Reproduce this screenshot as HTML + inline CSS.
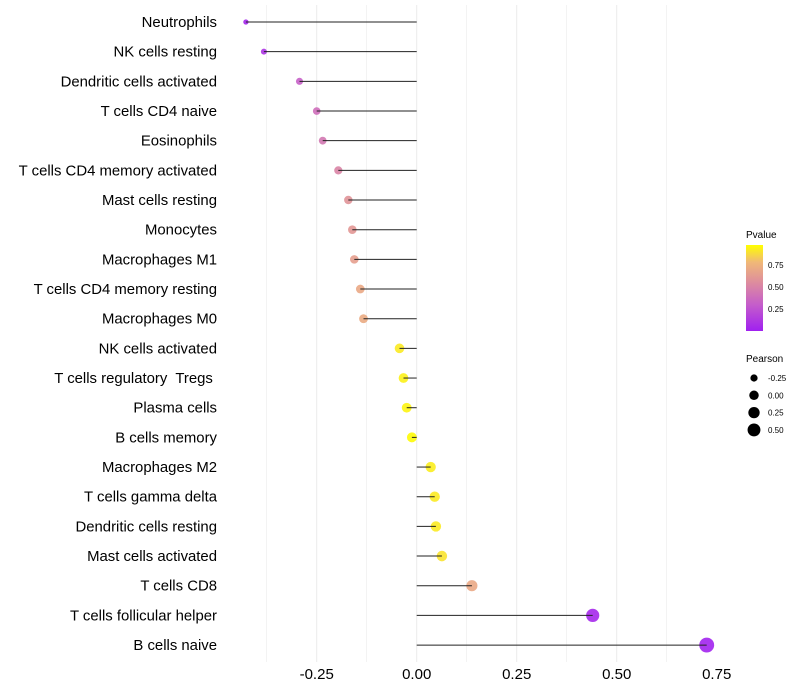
<!DOCTYPE html>
<html><head><meta charset="utf-8"><style>
body{margin:0;background:#fff;font-family:"Liberation Sans",sans-serif;}
svg{display:block}
text{white-space:pre}
</style></head><body>
<svg id="chart" width="800" height="700">
<defs><linearGradient id="pg" x1="0" y1="1" x2="0" y2="0">
<stop offset="0" stop-color="#a020f0"/><stop offset="0.3" stop-color="#c45ccb"/><stop offset="0.55" stop-color="#dc8aa0"/><stop offset="0.8" stop-color="#f0b878"/><stop offset="1" stop-color="#ffff00"/></linearGradient></defs>
<g id="grid"></g><g id="marks"></g><g id="labels"></g>
<g>
<text x="746" y="238" font-size="10" fill="#000">Pvalue</text>
<rect x="746" y="245" width="17" height="86" fill="url(#pg)"/>
<g font-size="8" fill="#000">
<text x="768" y="268">0.75</text><text x="768" y="290">0.50</text><text x="768" y="312">0.25</text></g>
</g>
<g>
<text x="746" y="362" font-size="10">Pearson</text>
<g id="sizeleg"></g>
</g>
</svg>
<script>
const categories=["Neutrophils","NK cells resting","Dendritic cells activated","T cells CD4 naive","Eosinophils","T cells CD4 memory activated","Mast cells resting","Monocytes","Macrophages M1","T cells CD4 memory resting","Macrophages M0","NK cells activated","T cells regulatory  Tregs ","Plasma cells","B cells memory","Macrophages M2","T cells gamma delta","Dendritic cells resting","Mast cells activated","T cells CD8","T cells follicular helper","B cells naive"];
const pearson=[-0.427,-0.382,-0.293,-0.25,-0.235,-0.196,-0.171,-0.161,-0.156,-0.141,-0.133,-0.043,-0.033,-0.025,-0.012,0.035,0.045,0.048,0.063,0.138,0.44,0.725];
const pvalues=[0.03,0.1,0.32,0.4,0.45,0.52,0.6,0.62,0.66,0.72,0.73,0.94,0.96,0.97,0.99,0.95,0.94,0.94,0.92,0.72,0.04,0.02];
const xTicks=[-0.25,0,0.25,0.5,0.75];
const xTickLabels=["-0.25","0.00","0.25","0.50","0.75"];
const sizeLegendVals=[-0.25,0,0.25,0.5];
const sizeLegendLabels=["-0.25","0.00","0.25","0.50"];
const NS="http://www.w3.org/2000/svg";
const X=v=>416.7+v*400;
const Y=i=>22+i*29.67;
const R=v=>Math.sqrt(Math.max(1,25+42*v));
const stops=[[0,[160,32,240]],[0.3,[196,92,203]],[0.55,[220,138,160]],[0.8,[240,184,120]],[1,[255,255,0]]];
function col(p){p=Math.max(0,Math.min(1,p));for(let k=1;k<stops.length;k++){if(p<=stops[k][0]){const a=stops[k-1],b=stops[k],t=(p-a[0])/(b[0]-a[0]);return "rgb("+a[1].map((c,j)=>Math.round(c+(b[1][j]-c)*t)).join(",")+")";}}return "rgb(255,255,0)";}
function mk(tag,at,parent){const e=document.createElementNS(NS,tag);for(const k in at)e.setAttribute(k,at[k]);parent.appendChild(e);return e;}
const grid=document.getElementById("grid"),marks=document.getElementById("marks"),labels=document.getElementById("labels");
for(let v=-0.375;v<=0.63;v+=0.125){const g=mk("line",{x1:X(v),x2:X(v),y1:5,y2:662,stroke:"#ebebeb","stroke-width":Math.abs((v*4)%1)<1e-6?1:0.6},grid);

}
xTicks.forEach((v,i)=>{const t=mk("text",{x:X(v),y:679,"font-size":15,"text-anchor":"middle",fill:"#000"},labels);t.textContent=xTickLabels[i];

});
categories.forEach((c,i)=>{
const t=mk("text",{x:217,y:Y(i)+5,"font-size":14.9,"text-anchor":"end",fill:"#000"},labels);t.textContent=c;


const p=mk("circle",{cx:X(pearson[i]),cy:Y(i),r:R(pearson[i]),fill:col(pvalues[i]),"fill-opacity":0.9},marks);


const l=mk("line",{x1:X(0),x2:X(pearson[i]),y1:Y(i),y2:Y(i),stroke:"#222","stroke-width":1},marks);


});
const sl=document.getElementById("sizeleg");
sizeLegendVals.forEach((v,i)=>{const y=378+i*17.3;
const c=mk("circle",{cx:754,cy:y,r:R(v)*0.95,fill:"#000"},sl);


const t=mk("text",{x:768,y:y+3,"font-size":8},sl);t.textContent=sizeLegendLabels[i];

});
</script>
</body></html>
